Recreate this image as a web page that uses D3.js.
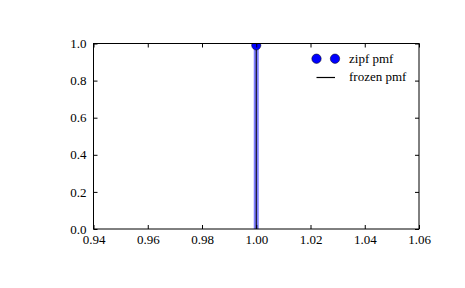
<!DOCTYPE html>
<html lang="en">
<head>
<meta charset="UTF-8">
<title>zipf pmf</title>
<script src="https://d3js.org/d3.v7.min.js"></script>
<style>
    body { margin: 0; background: #fff; }
</style>
</head>
<body>
<div id="chart"></div>
<script>
// data
const xVals = [1];
const pmfVals = [0.99];
const xTicks = [0.94, 0.96, 0.98, 1.00, 1.02, 1.04, 1.06];
const yTicks = [0.0, 0.2, 0.4, 0.6, 0.8, 1.0];
const legendLabels = ["zipf pmf", "frozen pmf"];

const width = 465, height = 288;
const margin = {top: 43.5, right: 46, bottom: 59, left: 93.5};
const innerW = width - margin.left - margin.right;
const innerH = height - margin.top - margin.bottom;
const FONT = "'Liberation Serif', 'Times New Roman', serif";
const FSIZE = "13px";

const svg = d3.select("#chart").append("svg")
    .attr("width", width)
    .attr("height", height);

const x = d3.scaleLinear().domain([0.94, 1.06]).range([0, innerW]);
const y = d3.scaleLinear().domain([0, 1]).range([innerH, 0]);

svg.append("defs").append("clipPath").attr("id", "clip")
    .append("rect").attr("width", innerW).attr("height", innerH);

const g = svg.append("g").attr("transform", `translate(${margin.left},${margin.top})`);
const plot = g.append("g").attr("clip-path", "url(#clip)");

// wide translucent vlines
plot.selectAll(".wide").data(xVals).enter().append("line")
    .attr("x1", d => x(d)).attr("x2", d => x(d))
    .attr("y1", y(0)).attr("y2", (d, i) => y(pmfVals[i]))
    .attr("stroke", "#0000ff").attr("stroke-opacity", 0.5).attr("stroke-width", 5);

// frozen pmf thin black vlines
plot.selectAll(".thin").data(xVals).enter().append("line")
    .attr("x1", d => x(d)).attr("x2", d => x(d))
    .attr("y1", y(0)).attr("y2", (d, i) => y(pmfVals[i]))
    .attr("stroke", "#000").attr("stroke-width", 1);

// markers
plot.selectAll("circle").data(xVals).enter().append("circle")
    .attr("cx", d => x(d)).attr("cy", (d, i) => y(pmfVals[i]))
    .attr("r", 4.6)
    .attr("fill", "#0000ff").attr("stroke", "#000").attr("stroke-width", 0.5);

// axes, ticks inward on all sides
const tickLen = 4;
g.append("g").attr("transform", `translate(0,${innerH})`)
    .call(d3.axisBottom(x).tickValues(xTicks).tickFormat(d3.format(".2f")).tickSizeInner(-tickLen).tickSizeOuter(0).tickPadding(6))
    .call(a => a.select(".domain").remove());
g.append("g")
    .call(d3.axisTop(x).tickValues(xTicks).tickFormat("").tickSizeInner(-tickLen).tickSizeOuter(0))
    .call(a => a.select(".domain").remove());
g.append("g")
    .call(d3.axisLeft(y).tickValues(yTicks).tickFormat(d3.format(".1f")).tickSizeInner(-tickLen).tickSizeOuter(0).tickPadding(7))
    .call(a => a.select(".domain").remove());
g.append("g").attr("transform", `translate(${innerW},0)`)
    .call(d3.axisRight(y).tickValues(yTicks).tickFormat("").tickSizeInner(-tickLen).tickSizeOuter(0))
    .call(a => a.select(".domain").remove());

g.selectAll("g").attr("font-family", FONT).attr("font-size", 13);
g.selectAll(".tick line").attr("stroke", "#000").attr("stroke-width", 1);
g.selectAll(".tick text").style("font-family", FONT).style("font-size", FSIZE).style("fill", "#000");

g.append("rect").attr("width", innerW).attr("height", innerH)
    .attr("fill", "none").attr("stroke", "#000").attr("stroke-width", 1);

// legend (no frame)
const leg = svg.append("g");
const lx0 = 316.5, lx1 = 335;
leg.selectAll("circle.l").data([lx0, lx1]).enter().append("circle")
    .attr("cx", d => d).attr("cy", 58.7).attr("r", 4.7)
    .attr("fill", "#0000ff").attr("stroke", "#000").attr("stroke-width", 0.5);
leg.append("text").attr("x", 349).attr("y", 63.3).text(legendLabels[0]);
leg.append("line").attr("x1", lx0).attr("x2", lx1).attr("y1", 77.5).attr("y2", 77.5)
    .attr("stroke", "#000").attr("stroke-width", 1.2);
leg.append("text").attr("x", 349).attr("y", 81).text(legendLabels[1]);
leg.selectAll("text").style("font-family", FONT).style("font-size", FSIZE).style("fill", "#000");
</script>
</body>
</html>
